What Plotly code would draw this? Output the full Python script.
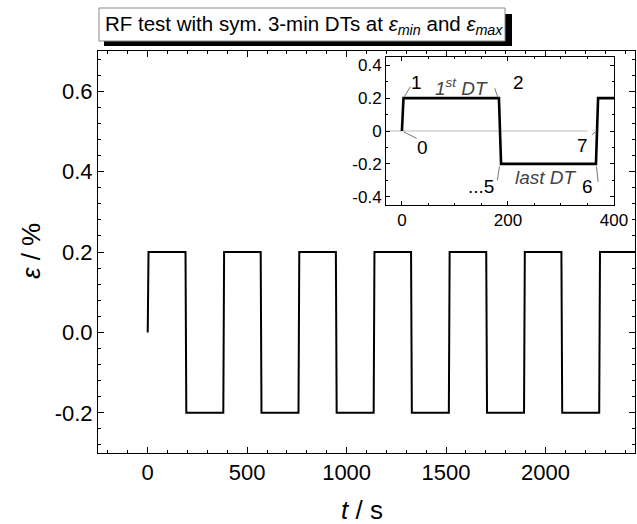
import plotly.graph_objects as go

# ---- data ----
main_t = [0, 4, 190, 194, 380, 384, 568, 572, 758, 762, 946, 950, 1136, 1140,
          1324, 1328, 1514, 1518, 1702, 1706, 1892, 1896, 2080, 2084, 2270, 2274, 2460]
main_eps = [0, 0.2, 0.2, -0.2, -0.2, 0.2, 0.2, -0.2, -0.2, 0.2, 0.2, -0.2, -0.2, 0.2,
            0.2, -0.2, -0.2, 0.2, 0.2, -0.2, -0.2, 0.2, 0.2, -0.2, -0.2, 0.2, 0.2]

inset_t = [0, 3, 183, 187, 366, 370, 400]
inset_eps = [0, 0.2, 0.2, -0.2, -0.2, 0.2, 0.2]

main_xticks = [0, 500, 1000, 1500, 2000]
main_yticks = [-0.2, 0.0, 0.2, 0.4, 0.6]
main_yticktext = ["-0.2", "0.0", "0.2", "0.4", "0.6"]
inset_xticks = [0, 200, 400]
inset_yticks = [-0.4, -0.2, 0, 0.2, 0.4]
inset_yticktext = ["-0.4", "-0.2", "0", "0.2", "0.4"]

# point labels in inset: (text, t, eps)
point_labels = [("1", 27, 0.293), ("2", 219, 0.293), ("0", 39, -0.10),
                ("...5", 150, -0.34), ("6", 350, -0.34), ("7", 341, -0.087)]
dt_labels = [("1<sup>st</sup> DT", 112, 0.27), ("last DT", 272, -0.28)]

W, H = 637, 524
L, R, T, B = 98, 635, 51, 453
FONT = "Liberation Sans, Arial, sans-serif"

def px(xp):
    return (xp - L) / (R - L)

def py(yp):
    return (B - yp) / (B - T)

fig = go.Figure()
fig.add_trace(go.Scatter(x=main_t, y=main_eps, mode="lines",
                         line=dict(color="black", width=2), xaxis="x", yaxis="y",
                         showlegend=False, hoverinfo="skip"))
fig.add_trace(go.Scatter(x=[-30, 350], y=[0, 0], mode="lines",
                         line=dict(color="#bdbdbd", width=1), xaxis="x2", yaxis="y2",
                         showlegend=False, hoverinfo="skip"))
fig.add_trace(go.Scatter(x=inset_t, y=inset_eps, mode="lines",
                         line=dict(color="black", width=2.6), xaxis="x2", yaxis="y2",
                         showlegend=False, hoverinfo="skip"))

axis_common = dict(showline=True, linecolor="black", linewidth=1, mirror="allticks",
                   ticks="inside", tickcolor="black", showgrid=False, zeroline=False,
                   automargin=False)

fig.update_layout(
    width=W, height=H,
    margin=dict(l=L, r=W - R, t=T, b=H - B, autoexpand=False),
    paper_bgcolor="white", plot_bgcolor="white",
    font=dict(family=FONT, color="black"),
    xaxis=dict(domain=[0, 1], range=[-250, 2450], tickvals=main_xticks,
               ticklen=6, tickfont=dict(size=22),
               minor=dict(dtick=100, tick0=0, ticklen=3, ticks="inside", tickcolor="black"),
               **axis_common),
    yaxis=dict(domain=[0, 1], range=[-0.3, 0.7], tickvals=main_yticks, ticktext=main_yticktext,
               ticklen=6, tickfont=dict(size=22),
               minor=dict(dtick=0.04, tick0=0, ticklen=3, ticks="inside", tickcolor="black"),
               **axis_common),
    xaxis2=dict(domain=[px(386), px(614)], anchor="y2", range=[-30, 400],
                tickvals=inset_xticks, ticklen=4, tickfont=dict(size=17),
                minor=dict(dtick=50, tick0=0, ticklen=2, ticks="inside", tickcolor="black"),
                **axis_common),
    yaxis2=dict(domain=[py(205), py(57)], anchor="x2", range=[-0.45, 0.45],
                tickvals=inset_yticks, ticktext=inset_yticktext, ticklen=4,
                tickfont=dict(size=17),
                minor=dict(dtick=0.1, tick0=0, ticklen=2, ticks="inside", tickcolor="black"),
                **axis_common),
)

shapes = []
# title box shadow and box
shapes.append(dict(type="rect", xref="paper", yref="paper", x0=px(104), x1=px(512),
                   y0=py(46), y1=py(40), fillcolor="black", line=dict(width=0), layer="above"))
shapes.append(dict(type="rect", xref="paper", yref="paper", x0=px(504), x1=px(512),
                   y0=py(46), y1=py(14), fillcolor="black", line=dict(width=0), layer="above"))
shapes.append(dict(type="rect", xref="paper", yref="paper", x0=px(99), x1=px(505),
                   y0=py(41), y1=py(8), fillcolor="white",
                   line=dict(color="#888888", width=1), layer="above"))
# leader lines in inset
leaders = [((16, 0.27), (4, 0.205)), ((28, -0.045), (3, -0.005)),
           ((175, 0.26), (181, 0.205)), ((180, -0.30), (184, -0.215)),
           ((370, -0.31), (367, -0.215)), ((359, -0.022), (367, 0.0))]
for (a, b) in leaders:
    shapes.append(dict(type="line", xref="x2", yref="y2", x0=a[0], y0=a[1], x1=b[0], y1=b[1],
                       line=dict(color="#777777", width=1)))
fig.update_layout(shapes=shapes)

ann = []
ann.append(dict(xref="paper", yref="paper", x=px(103), y=py(25), xanchor="left",
                yanchor="middle", showarrow=False,
                text="RF test with sym. 3-min DTs at <i>ε</i><sub><i>min</i></sub> and <i>ε</i><sub><i>max</i></sub>",
                font=dict(size=20.5, family=FONT, color="black")))
ann.append(dict(xref="paper", yref="paper", x=px(362), y=py(510), xanchor="center",
                yanchor="middle", showarrow=False, text="<i>t</i> / s",
                font=dict(size=26, family=FONT, color="black")))
ann.append(dict(xref="paper", yref="paper", x=px(31), y=py(251), xanchor="center",
                yanchor="middle", showarrow=False, text="<i>ε</i> / %", textangle=-90,
                font=dict(size=26, family=FONT, color="black")))
for text, t, e in point_labels:
    ann.append(dict(xref="x2", yref="y2", x=t, y=e, xanchor="center", yanchor="middle",
                    showarrow=False, text=text, font=dict(size=19, family=FONT, color="black")))
for text, t, e in dt_labels:
    ann.append(dict(xref="x2", yref="y2", x=t, y=e, xanchor="center", yanchor="middle",
                    showarrow=False, text="<i>" + text + "</i>",
                    font=dict(size=19, family=FONT, color="#444444")))
fig.update_layout(annotations=ann)

fig.write_html("out.html")
